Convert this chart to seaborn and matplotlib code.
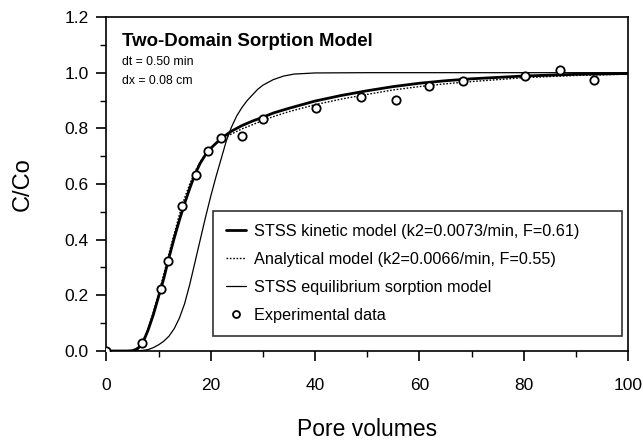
import numpy as np
import pandas as pd
import matplotlib
matplotlib.use("Agg")
import matplotlib.pyplot as plt
import seaborn as sns
from matplotlib.ticker import MultipleLocator, FormatStrFormatter
from matplotlib.lines import Line2D

### Values
pv_model = [0, 4, 5, 6, 7, 8, 9, 10, 11, 12, 13, 14, 15, 16, 17, 18, 19, 20, 21, 22, 23, 24,
            26, 28, 30, 32, 35, 40, 45, 50, 55, 60, 65, 70, 80, 90, 100]
kinetic = [0, 0, 0.001, 0.008, 0.03, 0.075, 0.13, 0.195, 0.26, 0.335, 0.405, 0.47, 0.53,
           0.585, 0.635, 0.675, 0.705, 0.728, 0.746, 0.763, 0.777, 0.79, 0.81, 0.826, 0.84,
           0.855, 0.872, 0.898, 0.918, 0.935, 0.95, 0.962, 0.971, 0.978, 0.988, 0.994, 0.997]
analytical = [0, 0, 0.002, 0.012, 0.035, 0.08, 0.14, 0.205, 0.275, 0.35, 0.42, 0.49, 0.55,
              0.60, 0.645, 0.68, 0.708, 0.728, 0.745, 0.758, 0.77, 0.78, 0.798, 0.813, 0.828,
              0.842, 0.86, 0.885, 0.905, 0.922, 0.938, 0.95, 0.96, 0.968, 0.982, 0.99, 0.995]

pv_equil = [0, 5, 7, 8, 9, 10, 11, 12, 13, 14, 15, 16, 17, 18, 19, 20, 21, 22, 23, 24, 25,
            26, 27, 28, 29, 30, 32, 34, 36, 40, 50, 100]
equilibrium = [0, 0, 0.002, 0.005, 0.012, 0.022, 0.035, 0.053, 0.08, 0.118, 0.17, 0.24,
               0.32, 0.40, 0.48, 0.555, 0.625, 0.69, 0.755, 0.805, 0.845, 0.875, 0.90,
               0.92, 0.94, 0.955, 0.975, 0.988, 0.995, 0.999, 1.0, 1.0]

pv_obs = [0, 6.9, 10.5, 11.8, 14.5, 17.2, 19.4, 22.0, 26.0, 30.1, 40.1, 48.9, 55.5, 61.9,
          68.3, 80.2, 86.9, 93.5]
c_obs = [0.0, 0.028, 0.222, 0.325, 0.52, 0.633, 0.717, 0.765, 0.771, 0.835, 0.873, 0.913,
         0.903, 0.951, 0.969, 0.987, 1.008, 0.975]

models = pd.DataFrame({"pv": pv_model, "kinetic": kinetic, "analytical": analytical})
equil = pd.DataFrame({"pv": pv_equil, "c": equilibrium})
obs = pd.DataFrame({"pv": pv_obs, "c": c_obs})

sns.set_style("ticks")
plt.rcParams["font.family"] = ["Liberation Sans", "DejaVu Sans"]
plt.rcParams["text.color"] = "black"
plt.rcParams["axes.labelcolor"] = "black"
plt.rcParams["xtick.color"] = "black"
plt.rcParams["ytick.color"] = "black"

fig = plt.figure(figsize=(6.43, 4.43), dpi=100)
ax = fig.add_axes([0.1654, 0.2077, 0.8113, 0.7539])

dotted = (0, (1.2, 1.2))
sns.lineplot(data=equil, x="pv", y="c", ax=ax, color="black", linewidth=0.9)
sns.lineplot(data=models, x="pv", y="analytical", ax=ax, color="black", linewidth=1.0,
             linestyle=dotted)
sns.lineplot(data=models, x="pv", y="kinetic", ax=ax, color="black", linewidth=2.0)
sns.scatterplot(data=obs, x="pv", y="c", ax=ax, marker="o", s=36, facecolor="white",
                edgecolor="black", linewidth=1.3, zorder=5)

ax.set_xlim(0, 100)
ax.set_ylim(0, 1.2)
ax.xaxis.set_major_locator(MultipleLocator(20))
ax.xaxis.set_minor_locator(MultipleLocator(10))
ax.yaxis.set_major_locator(MultipleLocator(0.2))
ax.yaxis.set_minor_locator(MultipleLocator(0.1))
ax.yaxis.set_major_formatter(FormatStrFormatter("%.1f"))
ax.tick_params(which="major", direction="out", length=7.5, width=1.2, labelsize=12.5)
ax.tick_params(which="minor", direction="out", length=4, width=1.0)
ax.tick_params(axis="x", which="major", pad=12)
ax.tick_params(axis="y", which="major", pad=5)
for sp in ax.spines.values():
    sp.set_linewidth(1.2)
    sp.set_color("black")

ax.set_xlabel("Pore volumes", fontsize=16.5, labelpad=18)
ax.set_ylabel("C/Co", fontsize=17, labelpad=22)

ax.text(0.0295, 0.926, "Two-Domain Sorption Model", transform=ax.transAxes, fontsize=13.4,
        fontweight="bold", va="center")
ax.text(0.0295, 0.864, "dt = 0.50 min", transform=ax.transAxes, fontsize=8.8, va="center")
ax.text(0.0295, 0.807, "dx = 0.08 cm", transform=ax.transAxes, fontsize=8.8, va="center")

handles = [
    Line2D([], [], color="black", linewidth=2.0),
    Line2D([], [], color="black", linewidth=1.0, linestyle=dotted),
    Line2D([], [], color="black", linewidth=0.9),
    Line2D([], [], color="black", marker="o", linestyle="none", markersize=5,
           markerfacecolor="white", markeredgewidth=1.3),
]
labels = [
    "STSS kinetic model (k2=0.0073/min, F=0.61)",
    "Analytical model (k2=0.0066/min, F=0.55)",
    "STSS equilibrium sorption model",
    "Experimental data",
]
leg = ax.legend(handles, labels, loc="lower left", bbox_to_anchor=(0.2045, 0.045, 0.784, 0.377),
                mode="expand", fontsize=11.7, frameon=True, fancybox=False, handlelength=1.25,
                labelspacing=0.8, borderpad=0.8, handletextpad=0.5, borderaxespad=0)
leg.get_frame().set_edgecolor("black")
leg.get_frame().set_linewidth(1.2)

fig.savefig("out.png", dpi=100)
